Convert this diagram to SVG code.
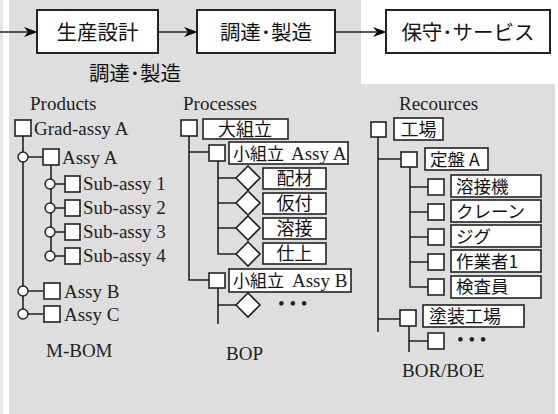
<svg xmlns="http://www.w3.org/2000/svg" width="558" height="414" viewBox="0 0 558 414">
<style>
.bx{fill:#fff;stroke:#222;stroke-width:2}
.sq{fill:#fff;stroke:#222;stroke-width:1.6}
.ln{fill:none;stroke:#222;stroke-width:1.6}
.ci{fill:#fff;stroke:#222;stroke-width:1.4}
.jp{font-family:"Noto Sans CJK JP","Noto Sans",sans-serif;fill:#111}
.en{font-family:"Liberation Serif",serif;fill:#222;font-size:19px}
</style>
<defs>
<marker id="ah" markerWidth="14" markerHeight="10" refX="13" refY="5" orient="auto" markerUnits="userSpaceOnUse">
<path d="M0,0 L14,5 L0,10 L4,5 Z" fill="#111"/>
</marker>
</defs>
<rect x="0" y="0" width="558" height="414" fill="#fff"/>
<rect x="0" y="0" width="3" height="414" fill="#e6e6e6"/>
<path d="M9,0 H361 V84 H555 V414 H9 Z" fill="#dedede"/>

<g id="flow">
<g id="n-seisan"><rect class="bx" x="37" y="10" width="121" height="43"/><text class="jp" x="97.5" y="39.5" font-size="20.5" text-anchor="middle">生産設計</text></g>
<g id="n-chotatsu"><rect class="bx" x="197" y="10" width="138" height="43"/><text class="jp" x="266" y="39.5" font-size="20.5" text-anchor="middle">調達･製造</text></g>
<g id="n-hoshu"><rect class="bx" x="386" y="10" width="164" height="43"/><text class="jp" x="468" y="39.5" font-size="20.5" text-anchor="middle">保守･サービス</text></g>
<text class="jp" x="135" y="81" font-size="20.5" text-anchor="middle">調達･製造</text>
</g>

<g id="connectors">
<line class="ln" x1="0" y1="32" x2="37" y2="32" stroke-width="2" marker-end="url(#ah)"/>
<line class="ln" x1="158" y1="32" x2="197" y2="32" stroke-width="2" marker-end="url(#ah)"/>
<line class="ln" x1="335" y1="32" x2="386" y2="32" stroke-width="2" marker-end="url(#ah)"/>
<!-- M-BOM -->
<path class="ln" d="M23,136 V314 M23,157 H43 M51,164 V256 M50,184 H65 M50,208 H65 M50,232 H65 M50,256 H65 M23,291 H43 M23,314 H43"/>
<!-- BOP -->
<path class="ln" d="M189,136 V280 H209 M189,152 H209 M218,161 V254 H236 M218,178 H236 M218,203 H236 M218,228 H236 M218,288 V324 M218,305 H236"/>
<!-- BOR -->
<path class="ln" d="M378,137 V332 M378,159 H401 M410,167 V287 H428 M410,187 H428 M410,212 H428 M410,237 H428 M410,262 H428 M378,319 H400 M409,326 V352 M409,341 H428"/>
</g>

<g id="mbom">
<text class="en" x="30" y="110">Products</text>
<g id="p-grad"><rect class="sq" x="15" y="120" width="16" height="16"/><text class="en" x="34" y="135">Grad-assy A</text></g>
<g id="p-assyA"><circle class="ci" cx="23" cy="157" r="5"/><rect class="sq" x="43" y="149" width="16" height="16"/><text class="en" x="62" y="164">Assy A</text></g>
<g id="p-sub1"><circle class="ci" cx="50" cy="184" r="5"/><rect class="sq" x="65" y="176" width="15" height="16"/><text class="en" x="83" y="190">Sub-assy 1</text></g>
<g id="p-sub2"><circle class="ci" cx="50" cy="208" r="5"/><rect class="sq" x="65" y="200" width="15" height="16"/><text class="en" x="83" y="214">Sub-assy 2</text></g>
<g id="p-sub3"><circle class="ci" cx="50" cy="232" r="5"/><rect class="sq" x="65" y="224" width="15" height="16"/><text class="en" x="83" y="238">Sub-assy 3</text></g>
<g id="p-sub4"><circle class="ci" cx="50" cy="256" r="5"/><rect class="sq" x="65" y="248" width="15" height="16"/><text class="en" x="83" y="262">Sub-assy 4</text></g>
<g id="p-assyB"><circle class="ci" cx="23" cy="291" r="5"/><rect class="sq" x="44" y="283" width="16" height="16"/><text class="en" x="64" y="298">Assy B</text></g>
<g id="p-assyC"><circle class="ci" cx="23" cy="314" r="5"/><rect class="sq" x="44" y="306" width="16" height="16"/><text class="en" x="64" y="321">Assy C</text></g>
<text class="en" x="46" y="357">M-BOM</text>
</g>

<g id="bop">
<text class="en" x="183" y="110">Processes</text>
<g id="b-dai"><rect class="sq" x="181" y="120" width="16" height="16"/><rect class="sq" x="203" y="119" width="85" height="20"/><text class="jp" x="245" y="135.5" font-size="18" text-anchor="middle">大組立</text></g>
<g id="b-shoA"><rect class="sq" x="209" y="145" width="16" height="16"/><rect class="sq" x="229" y="142" width="119" height="22"/><text class="jp" x="233" y="159.5" font-size="17">小組立</text><text class="en" x="291" y="159.5" font-size="17">Assy A</text></g>
<g id="b-haizai"><path class="sq" d="M248,166 L260,178 L248,190 L236,178 Z"/><rect class="sq" x="263" y="168" width="63" height="21"/><text class="jp" x="294.5" y="184.5" font-size="18" text-anchor="middle">配材</text></g>
<g id="b-karitsuke"><path class="sq" d="M248,191 L260,203 L248,215 L236,203 Z"/><rect class="sq" x="263" y="193" width="63" height="21"/><text class="jp" x="294.5" y="209.5" font-size="18" text-anchor="middle">仮付</text></g>
<g id="b-yousetsu"><path class="sq" d="M248,216 L260,228 L248,240 L236,228 Z"/><rect class="sq" x="263" y="218" width="63" height="21"/><text class="jp" x="294.5" y="234.5" font-size="18" text-anchor="middle">溶接</text></g>
<g id="b-shiage"><path class="sq" d="M248,242 L260,254 L248,266 L236,254 Z"/><rect class="sq" x="263" y="243" width="63" height="21"/><text class="jp" x="294.5" y="259.5" font-size="18" text-anchor="middle">仕上</text></g>
<g id="b-shoB"><rect class="sq" x="209" y="273" width="16" height="15"/><rect class="sq" x="229" y="269" width="122" height="23"/><text class="jp" x="233" y="287" font-size="17">小組立</text><text class="en" x="292" y="287" font-size="17">Assy B</text></g>
<g id="b-more"><path class="sq" d="M248,293 L260,305 L248,317 L236,305 Z"/><text class="en" x="278" y="310" font-size="16">• • •</text></g>
<text class="en" x="226" y="360">BOP</text>
</g>

<g id="bor">
<text class="en" x="399" y="110">Recources</text>
<g id="r-kojo"><rect class="sq" x="371" y="122" width="15" height="15"/><rect class="sq" x="394" y="118" width="49" height="22"/><text class="jp" x="418.5" y="135.5" font-size="18" text-anchor="middle">工場</text></g>
<g id="r-teiban"><rect class="sq" x="401" y="152" width="16" height="15"/><rect class="sq" x="425" y="148" width="63" height="22"/><text class="jp" x="430" y="165.5" font-size="17.5">定盤 A</text></g>
<g id="r-yousetsuki"><rect class="sq" x="428" y="179" width="16" height="16"/><rect class="sq" x="451" y="175" width="90" height="22"/><text class="jp" x="456" y="192.5" font-size="17.5">溶接機</text></g>
<g id="r-crane"><rect class="sq" x="428" y="204" width="16" height="16"/><rect class="sq" x="451" y="200" width="90" height="22"/><text class="jp" x="456" y="217.5" font-size="17.5">クレーン</text></g>
<g id="r-jig"><rect class="sq" x="428" y="229" width="16" height="16"/><rect class="sq" x="451" y="225" width="90" height="22"/><text class="jp" x="456" y="242.5" font-size="17.5">ジグ</text></g>
<g id="r-worker"><rect class="sq" x="428" y="254" width="16" height="16"/><rect class="sq" x="451" y="250" width="90" height="22"/><text class="jp" x="456" y="267.5" font-size="17.5">作業者1</text></g>
<g id="r-inspector"><rect class="sq" x="428" y="279" width="16" height="16"/><rect class="sq" x="451" y="276" width="90" height="22"/><text class="jp" x="456" y="293" font-size="17.5">検査員</text></g>
<g id="r-tosou"><rect class="sq" x="400" y="310" width="16" height="16"/><rect class="sq" x="423" y="305" width="101" height="22"/><text class="jp" x="429" y="322.5" font-size="18">塗装工場</text></g>
<g id="r-more"><rect class="sq" x="428" y="333" width="16" height="16"/><text class="en" x="457" y="346" font-size="16">• • •</text></g>
<text class="en" x="402" y="377">BOR/BOE</text>
</g>
</svg>
